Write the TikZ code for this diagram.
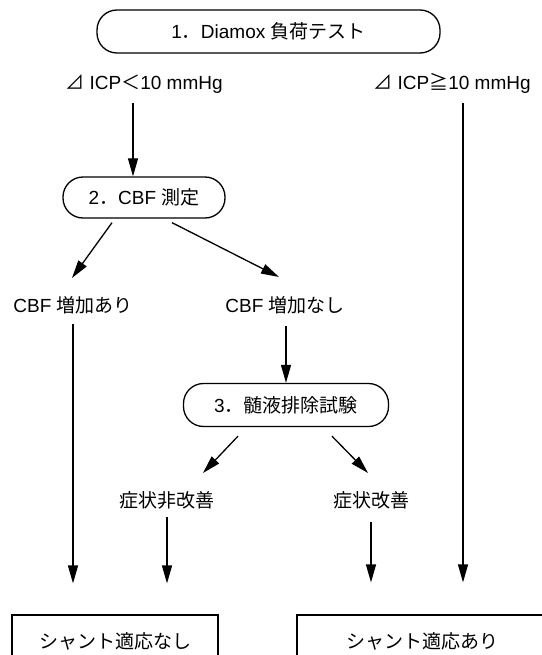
\documentclass[tikz,border=0pt]{standalone}
\usepackage{fontspec}
\setmainfont{Liberation Sans}
\newfontfamily\jp{Noto Sans CJK JP}
\usetikzlibrary{arrows.meta}

\begin{document}
\begin{tikzpicture}[x=1pt,y=-1pt,
  every node/.style={font=\fontsize{19}{22}\selectfont},
  pill/.style={draw, line width=1.3pt, rounded corners=20pt, inner sep=0pt},
  box/.style={draw, line width=1.2pt, inner sep=0pt},
  lab/.style={inner sep=0pt, text height=14pt, text depth=4pt, outer sep=0pt},
  arr/.style={line width=1.3pt, -{Triangle[length=18pt,width=10pt]}},
]
\useasboundingbox (0,0) rectangle (541,655);

% steps of the test sequence
\node[pill, minimum width=343pt, minimum height=43pt] (test) at (268.5,31.5)
  {1{\jp ．}Diamox {\jp 負荷テスト}};
\node[lab] (lo) at (144,85) {{\jp ⊿} ICP{\jp ＜}10 mmHg};
\node[lab] (hi) at (452,85) {{\jp ⊿} ICP{\jp ≧}10 mmHg};

\node[pill, minimum width=162pt, minimum height=41pt] (cbf) at (144,197.5)
  {2{\jp ．}CBF {\jp 測定}};
\node[lab] (inc) at (73,307) {CBF {\jp 増加あり}};
\node[lab] (noinc) at (285,307) {CBF {\jp 増加なし}};

\node[pill, minimum width=205pt, minimum height=43pt] (csf) at (286,405)
  {3{\jp ．髄液排除試験}};
\node[lab] (worse) at (167,502) {\jp 症状非改善};
\node[lab] (better) at (371,502) {\jp 症状改善};

% outcomes
\node[box, minimum width=206pt, minimum height=52pt] (no) at (115,641)
  {\jp シャント適応なし};
\node[box, minimum width=250pt, minimum height=52pt] (yes) at (422,641)
  {\jp シャント適応あり};

% connectors
\draw[arr, shorten <=9pt] ([xshift=-11pt]lo.south) -- ([xshift=-11pt]cbf.north);
\draw[arr, shorten <=9pt, shorten >=32pt] ([xshift=11pt]hi.south)
  -- ([xshift=11pt]hi.south |- yes.north);

\draw[arr] ([xshift=-32pt,yshift=-4pt]cbf.south) -- ([xshift=-1pt,yshift=20pt]inc.north);
\draw[arr] ([xshift=28pt,yshift=-4pt]cbf.south) -- ([xshift=-6pt,yshift=21pt]noinc.north);

\draw[arr, shorten <=8pt, shorten >=31pt] (inc.south) -- (inc.south |- no.north);
\draw[arr, shorten <=10pt] (noinc.south -| csf.north) -- (csf.north);

\draw[arr] ([xshift=-48pt,yshift=-9pt]csf.south) -- ([xshift=36pt,yshift=20pt]worse.north);
\draw[arr] ([xshift=46pt,yshift=-9pt]csf.south) -- ([xshift=-3pt,yshift=20pt]better.north);

\draw[arr, shorten <=6pt, shorten >=31pt] (worse.south) -- (worse.south |- no.north);
\draw[arr, shorten <=11pt, shorten >=32pt] (better.south) -- (better.south |- yes.north);
\end{tikzpicture}
\end{document}
